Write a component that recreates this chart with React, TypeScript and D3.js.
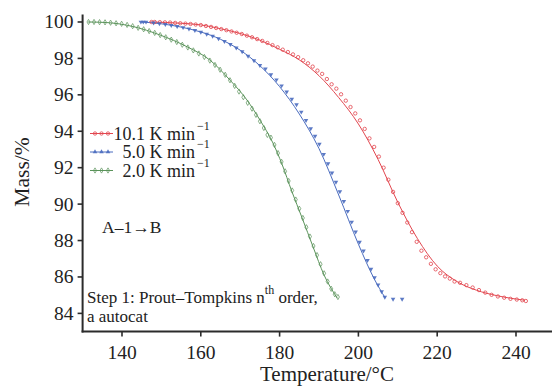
import React from "react";
import * as d3 from "d3";

const W = 552;
const H = 387;

const xTicks = [140, 160, 180, 200, 220, 240];
const yTicks = [84, 86, 88, 90, 92, 94, 96, 98, 100];

const legendLabels = ["10.1 K min", "5.0 K min", "2.0 K min"];
const seriesColors = ["#e2474f", "#4a6cbf", "#5a935a"];

// Model (fit) lines: [temperature, mass]
const redFit: [number, number][] = [
  [147, 100], [155, 99.93], [160, 99.84], [165, 99.63], [170, 99.37], [175, 99.0],
  [180, 98.5], [185, 97.92], [190, 97.05], [195, 95.85], [200, 94.4], [205, 92.45],
  [210, 90.1], [215, 88.1], [220, 86.6], [225, 85.75], [230, 85.27], [235, 84.98], [242.3, 84.72],
];
const blueFit: [number, number][] = [
  [145, 100], [150, 99.9], [155, 99.72], [160, 99.45], [165, 99.05], [170, 98.45],
  [175, 97.6], [180, 96.45], [185, 94.95], [190, 93.05], [195, 90.5], [200, 87.8],
  [204, 85.9], [206.8, 84.85],
];
const greenFit: [number, number][] = [
  [131.4, 100], [136, 99.97], [142.8, 99.75], [149.6, 99.29], [156.5, 98.64], [162.3, 97.91],
  [167.4, 96.81], [171.7, 95.72], [175, 94.62], [178.3, 93.36], [180.6, 92.2], [183.1, 90.7],
  [185.7, 89.25], [188.5, 87.65], [191.3, 86.1], [194.6, 84.85],
];

// Measured points
const redPts: [number, number][] = [
  [147.5, 100.0], [148.3, 100.0], [149.6, 99.99], [150.9, 99.98], [152.2, 99.97], [153.5, 99.95],
  [154.8, 99.93], [156.1, 99.91], [157.4, 99.89], [158.7, 99.86], [160.0, 99.83], [161.3, 99.78],
  [162.6, 99.73], [163.9, 99.67], [165.2, 99.61], [166.5, 99.55], [167.8, 99.48], [169.1, 99.41],
  [170.4, 99.34], [171.7, 99.25], [173.0, 99.16], [174.3, 99.06], [175.6, 98.96], [176.9, 98.85],
  [178.2, 98.73], [179.5, 98.61], [180.8, 98.48], [182.1, 98.35], [183.4, 98.22], [184.7, 98.07],
  [186.0, 97.9], [187.2, 97.73], [188.4, 97.55], [189.6, 97.33], [190.8, 97.15], [192.0, 96.87],
  [193.2, 96.58], [194.4, 96.34], [195.6, 96.03], [196.8, 95.68], [198.0, 95.33], [199.2, 94.98],
  [200.4, 94.6], [201.6, 94.13], [202.8, 93.61], [204.0, 93.14], [205.2, 92.61], [206.4, 92.0],
  [207.6, 91.34], [208.8, 90.67], [210.0, 90.05], [211.2, 89.52], [212.4, 88.99], [213.6, 88.46],
  [214.8, 87.93], [216.0, 87.44], [217.2, 87.08], [218.4, 86.72], [219.6, 86.42], [220.8, 86.21],
  [222.0, 86.03], [223.2, 85.91], [224.4, 85.75], [225.8, 85.68], [227.4, 85.55], [229.0, 85.42],
  [230.6, 85.28], [232.2, 85.14], [233.8, 85.02], [235.4, 84.93], [237.0, 84.86], [238.6, 84.8],
  [240.2, 84.76], [241.6, 84.72], [242.5, 84.68],
];
const bluePts: [number, number][] = [
  [144.8, 100.0], [145.4, 100.0], [146.1, 100.0], [148.0, 99.95], [149.5, 99.91], [151.0, 99.87],
  [152.5, 99.82], [154.0, 99.76], [155.5, 99.7], [157.0, 99.62], [158.5, 99.54], [160.0, 99.45],
  [161.5, 99.34], [163.0, 99.22], [164.5, 99.09], [166.0, 98.94], [167.5, 98.77], [169.0, 98.58],
  [170.5, 98.37], [172.0, 98.13], [173.5, 97.88], [175.0, 97.62], [176.4, 97.43], [177.8, 97.11],
  [179.2, 96.83], [180.5, 96.5], [181.8, 96.16], [183.1, 95.77], [184.3, 95.46], [185.5, 95.06],
  [186.7, 94.6], [187.9, 94.15], [189.0, 93.73], [190.1, 93.3], [191.2, 92.74], [192.3, 92.23],
  [193.3, 91.72], [194.3, 91.21], [195.3, 90.69], [196.3, 90.15], [197.3, 89.61], [198.3, 89.02],
  [199.3, 88.48], [200.3, 87.91], [201.3, 87.43], [202.3, 86.91], [203.2, 86.43], [204.1, 85.96],
  [205.0, 85.57], [205.9, 85.2], [206.7, 84.9], [208.8, 84.78], [211.1, 84.78],
];
const greenPts: [number, number][] = [
  [131.5, 100.0], [132.9, 100.0], [134.3, 99.99], [135.7, 99.98], [137.1, 99.96], [138.5, 99.93],
  [139.9, 99.9], [141.3, 99.84], [142.7, 99.77], [144.1, 99.68], [145.5, 99.6], [146.9, 99.5],
  [148.3, 99.4], [149.7, 99.28], [151.1, 99.16], [152.5, 99.03], [153.9, 98.9], [155.3, 98.75],
  [156.7, 98.6], [158.1, 98.44], [159.5, 98.27], [160.9, 98.08], [162.3, 97.88], [163.6, 97.64],
  [164.9, 97.38], [166.2, 97.1], [167.4, 96.8], [168.6, 96.49], [169.7, 96.18], [170.8, 95.87],
  [171.9, 95.56], [173.0, 95.24], [174.0, 94.9], [175.0, 94.55], [176.0, 94.18], [176.9, 93.8],
  [177.8, 93.65], [178.7, 93.25], [179.6, 92.8], [180.5, 92.32], [181.4, 91.8], [182.3, 91.27],
  [183.2, 90.75], [184.1, 90.25], [185.0, 89.75], [185.9, 89.24], [186.8, 88.73], [187.7, 88.22],
  [188.6, 87.7], [189.5, 87.2], [190.4, 86.7], [191.3, 86.2], [192.2, 85.75], [193.1, 85.35],
  [194.0, 85.05], [194.8, 84.9],
];

const FONT = "'Liberation Serif', 'Times New Roman', serif";

export default function App() {
  const x = d3.scaleLinear().domain([130, 250]).range([82.6, 555.4]);
  const y = d3.scaleLinear().domain([83, 100.4]).range([331.6, 14.7]);
  const line = d3
    .line<[number, number]>()
    .x((d) => x(d[0]))
    .y((d) => y(d[1]))
    .curve(d3.curveMonotoneX);

  const circle = d3.symbol().type(d3.symbolCircle).size(9)() as string;
  const tri = d3.symbol().type(d3.symbolTriangle).size(9)() as string;
  const diamond = d3.symbol().type(d3.symbolDiamond).size(8)() as string;

  const axisColor = "#2b2b2b";
  const x0 = x(130);
  const yBottom = y(83);

  const fits = [redFit, blueFit, greenFit];
  const pts = [redPts, bluePts, greenPts];

  const marker = (i: number, px: number, py: number, key: string, legend = false) => {
    const c = seriesColors[i];
    if (i === 0)
      return <path key={key} d={circle} transform={`translate(${px},${py})`} fill="none" stroke={c} strokeWidth={0.9} opacity={0.9} />;
    if (i === 1)
      return <path key={key} d={tri} transform={`translate(${px},${py}) rotate(${legend ? 0 : 180})`} fill={c} stroke="none" opacity={0.9} />;
    return <path key={key} d={diamond} transform={`translate(${px},${py})`} fill="none" stroke={c} strokeWidth={0.8} opacity={0.9} />;
  };

  const legendY = [133.5, 152, 170.5];

  return (
    <svg width={W} height={H} style={{ position: "absolute", left: 0, top: 0, background: "white" }} fontFamily={FONT}>
      <rect width={W} height={H} fill="white" />
      {/* fit lines */}
      {fits.map((f, i) => (
        <path key={"f" + i} d={line(f) as string} fill="none" stroke={seriesColors[i]} strokeWidth={1} />
      ))}
      {/* measured markers */}
      {pts.map((p, i) => p.map((d, j) => marker(i, x(d[0]), y(d[1]), `m${i}-${j}`)))}

      {/* axes */}
      <line x1={x0} y1={14.5} x2={x0} y2={yBottom + 1} stroke={axisColor} strokeWidth={2} />
      <line x1={x0 - 1} y1={yBottom} x2={W} y2={yBottom} stroke={axisColor} strokeWidth={2} />
      {yTicks.map((t) => (
        <g key={"yt" + t}>
          <line x1={x0 - 5} x2={x0} y1={y(t)} y2={y(t)} stroke={axisColor} strokeWidth={1.6} />
          <text x={x0 - 9} y={y(t)} dy="0.33em" textAnchor="end" fontSize={19.5} fill="#222">
            {t}
          </text>
        </g>
      ))}
      {xTicks.map((t) => (
        <g key={"xt" + t}>
          <line x1={x(t)} x2={x(t)} y1={yBottom} y2={yBottom + 5} stroke={axisColor} strokeWidth={1.6} />
          <text x={x(t)} y={359} textAnchor="middle" fontSize={19.5} fill="#222">
            {t}
          </text>
        </g>
      ))}
      <text x={327} y={381} textAnchor="middle" fontSize={21} fill="#222">
        Temperature/°C
      </text>
      <text transform="translate(29,172) rotate(-90)" textAnchor="middle" fontSize={21.5} fill="#222">
        Mass/%
      </text>

      {/* legend */}
      {legendLabels.map((lab, i) => (
        <g key={"lg" + i}>
          <line x1={90} x2={113} y1={legendY[i]} y2={legendY[i]} stroke={seriesColors[i]} strokeWidth={1} />
          {[95, 101.5, 108].map((lx, k) => marker(i, lx, legendY[i], `lm${i}-${k}`, true))}
          <text x={195} y={legendY[i] + 6} textAnchor="end" fontSize={18} fill="#222">
            {lab}
          </text>
          <text x={197} y={legendY[i] - 4} fontSize={12} fill="#222">
            −1
          </text>
        </g>
      ))}

      {/* annotations */}
      <text x={102} y={233} fontSize={17.5} fill="#222">
        A–1→B
      </text>
      <text x={87} y={303} fontSize={17} fill="#222">
        Step 1: Prout–Tompkins n
        <tspan dy={-9} fontSize={12}>th</tspan>
        <tspan dy={9}> order,</tspan>
      </text>
      <text x={87} y={322} fontSize={17} fill="#222">
        a autocat
      </text>
    </svg>
  );
}
